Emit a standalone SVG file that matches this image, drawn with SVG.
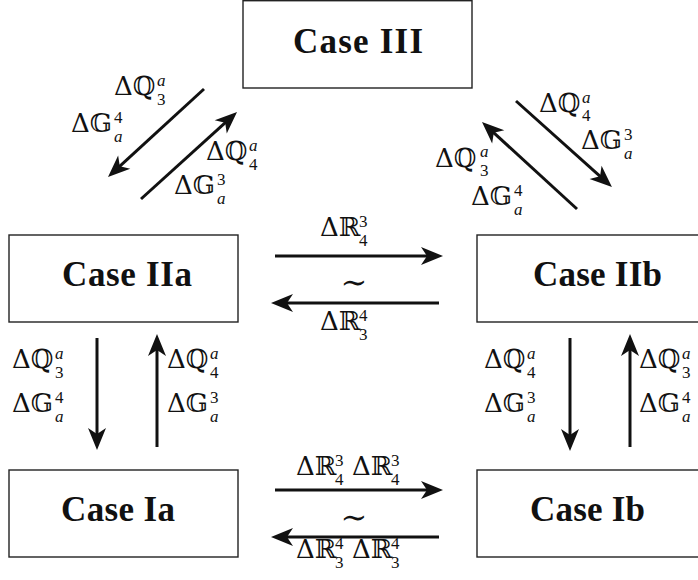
<svg xmlns="http://www.w3.org/2000/svg" width="698" height="580" viewBox="0 0 698 580">
<style>
.box{fill:#fff;stroke:#222;stroke-width:1.4}
.lbl{font-family:"Liberation Serif","DejaVu Serif",serif;font-weight:bold;font-size:35px;fill:#111}
.m{font-family:"DejaVu Serif","DejaVu Sans",serif;font-size:26px;fill:#111}
.s{font-family:"Liberation Serif","DejaVu Serif",serif;font-size:17px}
.i{font-style:italic}
.t{font-family:"DejaVu Serif","DejaVu Sans",serif;font-size:32px;fill:#111}
.arr{stroke:#111;stroke-width:3;fill:none;marker-end:url(#ah)}
</style>
<defs>
<marker id="ah" viewBox="-16 -10 26 20" refX="0" refY="0" markerWidth="26" markerHeight="20" markerUnits="userSpaceOnUse" orient="auto">
<path d="M8,0 L-14,-9 L-8,0 L-14,9 Z" fill="#111"/>
</marker>
</defs>
<g id="case-iii"><rect class="box" x="243" y="0.7" width="229" height="87.3"/><text class="lbl" x="293" y="53" textLength="130" lengthAdjust="spacing">Case III</text></g>
<g id="case-iia"><rect class="box" x="9" y="235" width="229" height="87"/><text class="lbl" x="62" y="286" textLength="130" lengthAdjust="spacing">Case IIa</text></g>
<g id="case-iib"><rect class="box" x="477" y="235" width="240" height="87"/><text class="lbl" x="533" y="286" textLength="129" lengthAdjust="spacing">Case IIb</text></g>
<g id="case-ia"><rect class="box" x="9" y="470" width="229" height="87"/><text class="lbl" x="61" y="521" textLength="114" lengthAdjust="spacing">Case Ia</text></g>
<g id="case-ib"><rect class="box" x="477" y="470" width="240" height="87"/><text class="lbl" x="530" y="521" textLength="115" lengthAdjust="spacing">Case Ib</text></g>
<g id="connectors">
<line class="arr" x1="204" y1="89" x2="113.9" y2="171.6"/>
<line class="arr" x1="141" y1="199" x2="231.1" y2="117.4"/>
<line class="arr" x1="516" y1="101" x2="606" y2="181.7"/>
<line class="arr" x1="577" y1="209" x2="487.9" y2="127.4"/>
<line class="arr" x1="275" y1="256" x2="435" y2="256"/>
<line class="arr" x1="439" y1="303" x2="279" y2="303"/>
<line class="arr" x1="275" y1="490" x2="435" y2="490"/>
<line class="arr" x1="439" y1="537" x2="279" y2="537"/>
<line class="arr" x1="97" y1="338" x2="97" y2="442"/>
<line class="arr" x1="157" y1="447" x2="157" y2="342"/>
<line class="arr" x1="570" y1="338" x2="570" y2="443"/>
<line class="arr" x1="630" y1="447" x2="630" y2="342"/>
</g>
<g id="labels">
<text class="m" x="114" y="95">Δℚ<tspan class="s i" x="157" y="86">a</tspan><tspan class="s" x="157" y="105">3</tspan><tspan x="71" y="132">Δ𝔾</tspan><tspan class="s" x="114" y="123">4</tspan><tspan class="s i" x="114" y="142">a</tspan></text>
<text class="m" x="206" y="160">Δℚ<tspan class="s i" x="249" y="151">a</tspan><tspan class="s" x="249" y="170">4</tspan><tspan x="174" y="194">Δ𝔾</tspan><tspan class="s" x="217" y="185">3</tspan><tspan class="s i" x="217" y="204">a</tspan></text>
<text class="m" x="539" y="112">Δℚ<tspan class="s i" x="582" y="103">a</tspan><tspan class="s" x="582" y="121">4</tspan><tspan x="581" y="149">Δ𝔾</tspan><tspan class="s" x="624" y="140">3</tspan><tspan class="s i" x="624" y="159">a</tspan></text>
<text class="m" x="435" y="167">Δℚ<tspan class="s i" x="480" y="157">a</tspan><tspan class="s" x="480" y="176">3</tspan><tspan x="471" y="205">Δ𝔾</tspan><tspan class="s" x="514" y="196">4</tspan><tspan class="s i" x="514" y="215">a</tspan></text>
<text class="m" x="320" y="236">Δℝ<tspan class="s" x="359" y="227">3</tspan><tspan class="s" x="359" y="246">4</tspan></text>
<text class="t" x="354" y="293" text-anchor="middle">∼</text>
<text class="m" x="320" y="330">Δℝ<tspan class="s" x="359" y="321">4</tspan><tspan class="s" x="359" y="340">3</tspan></text>
<text class="m" x="296" y="475">Δℝ<tspan class="s" x="335" y="466">3</tspan><tspan class="s" x="335" y="485">4</tspan><tspan x="352" y="475">Δℝ</tspan><tspan class="s" x="391" y="466">3</tspan><tspan class="s" x="391" y="485">4</tspan></text>
<text class="t" x="354" y="528" text-anchor="middle">∼</text>
<text class="m" x="296" y="558">Δℝ<tspan class="s" x="335" y="549">4</tspan><tspan class="s" x="335" y="568">3</tspan><tspan x="352" y="558">Δℝ</tspan><tspan class="s" x="391" y="549">4</tspan><tspan class="s" x="391" y="568">3</tspan></text>
<text class="m" x="12" y="368">Δℚ<tspan class="s i" x="55" y="359">a</tspan><tspan class="s" x="55" y="378">3</tspan><tspan x="12" y="412">Δ𝔾</tspan><tspan class="s" x="55" y="403">4</tspan><tspan class="s i" x="55" y="422">a</tspan></text>
<text class="m" x="167" y="368">Δℚ<tspan class="s i" x="210" y="359">a</tspan><tspan class="s" x="210" y="378">4</tspan><tspan x="167" y="412">Δ𝔾</tspan><tspan class="s" x="210" y="403">3</tspan><tspan class="s i" x="210" y="422">a</tspan></text>
<text class="m" x="484" y="368">Δℚ<tspan class="s i" x="527" y="359">a</tspan><tspan class="s" x="527" y="378">4</tspan><tspan x="484" y="412">Δ𝔾</tspan><tspan class="s" x="527" y="403">3</tspan><tspan class="s i" x="527" y="422">a</tspan></text>
<text class="m" x="639" y="368">Δℚ<tspan class="s i" x="682" y="359">a</tspan><tspan class="s" x="682" y="378">3</tspan><tspan x="639" y="412">Δ𝔾</tspan><tspan class="s" x="682" y="403">4</tspan><tspan class="s i" x="682" y="422">a</tspan></text>
</g>
</svg>
